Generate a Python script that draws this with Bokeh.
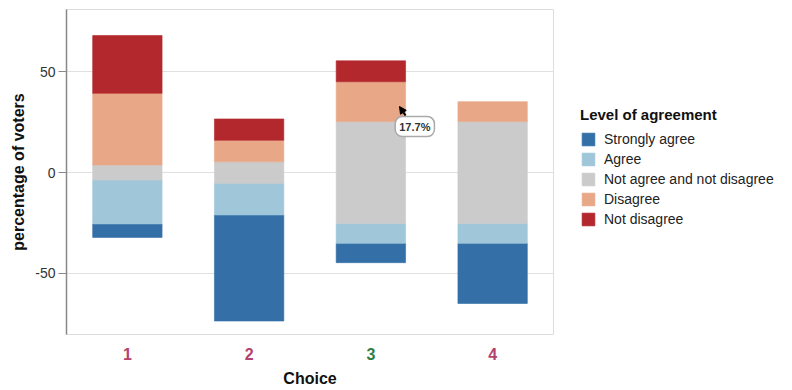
from bokeh.plotting import figure
from bokeh.layouts import row, column
from bokeh.core.properties import value
from bokeh.models import (FactorRange, Range1d, Legend, LegendItem, ColumnDataSource,
                          FixedTicker, Label, Arrow, NormalHead)
from bokeh.embed import file_html
from bokeh.resources import INLINE

# ---- data (percent of voters) ----
choices = ["1", "2", "3", "4"]
choice_colors = ["#b5416d", "#b5416d", "#2f7d45", "#b5416d"]
levels = ["Strongly agree", "Agree", "Not agree and not disagree", "Disagree", "Not disagree"]
level_colors = ["#3470a7", "#a0c6da", "#cbcbcb", "#e8a888", "#b3282d"]
strongly_agree = [6.7, 52.7, 9.6, 29.9]
agree = [21.8, 15.8, 9.9, 9.9]
neutral = [7.5, 10.6, 50.6, 50.6]
disagree = [35.6, 10.7, 19.8, 9.9]
not_disagree = [28.7, 10.6, 10.4, 0.0]
y_ticks = [-50, 0, 50]
tooltip_text = "17.7%"
tooltip_choice = "3"

series = [strongly_agree, agree, neutral, disagree, not_disagree]

FONT = "Liberation Sans"
BAR_W = 0.57

# ---------------- main plot ----------------
p = figure(x_range=FactorRange(factors=choices), y_range=Range1d(-80.5, 81),
           width=555, height=335, output_backend="svg", toolbar_location=None,
           min_border_left=66, min_border_right=2, min_border_top=9, min_border_bottom=1)

bottoms = [-(s + a + n / 2.0) for s, a, n in zip(strongly_agree, agree, neutral)]
cur = list(bottoms)
for vals, col in zip(series, level_colors):
    top = [c + v for c, v in zip(cur, vals)]
    keep = [i for i, v in enumerate(vals) if v > 0]
    src = ColumnDataSource(dict(x=[choices[i] for i in keep],
                                bottom=[cur[i] for i in keep],
                                top=[top[i] for i in keep]))
    p.vbar(x="x", bottom="bottom", top="top", width=BAR_W, source=src,
           fill_color=col, line_color=col, line_alpha=0.6, line_width=1)
    cur = top

p.outline_line_color = "#dddddd"
p.xgrid.grid_line_color = None
p.ygrid.grid_line_color = "#e0e0e0"
p.ygrid.ticker = FixedTicker(ticks=y_ticks)
p.xaxis.visible = False

ya = p.yaxis[0]
ya.ticker = FixedTicker(ticks=y_ticks)
ya.major_label_overrides = {t: str(t) for t in y_ticks}
ya.axis_line_color = "#888888"
ya.axis_line_width = 1.5
ya.major_tick_line_color = "#888888"
ya.major_tick_out = 8
ya.major_tick_in = 0
ya.minor_tick_line_color = None
ya.major_label_text_font = FONT
ya.major_label_text_font_size = "14px"
ya.major_label_text_color = "#333333"
ya.major_label_standoff = 3
ya.axis_label = "percentage of voters"
ya.axis_label_text_font = FONT
ya.axis_label_text_font_size = "16px"
ya.axis_label_text_font_style = "bold"
ya.axis_label_text_color = "#111111"
ya.axis_label_standoff = 5

# hover tooltip visible in the picture
ti = choices.index(tooltip_choice)
tx = ti + 0.5 + BAR_W / 2
ty = bottoms[ti] + strongly_agree[ti] + agree[ti] + neutral[ti]
p.add_layout(Label(x=tx - 0.085, y=ty + 2.5, text=tooltip_text, text_font=FONT,
                   text_font_size="11px", text_font_style="bold", text_color="#333333",
                   text_align="left", text_baseline="top",
                   background_fill_color="white", border_line_color="#aaaaaa",
                   border_line_width=1.5, padding=4, border_radius=7))
p.add_layout(Arrow(x_start=tx - 0.0, y_start=ty + 3.0, x_end=tx - 0.05, y_end=ty + 7.5,
                   line_color="black", line_width=2,
                   end=NormalHead(size=7, fill_color="black", line_color="black")))

# ---------------- category labels + axis title strip ----------------
lab = figure(x_range=p.x_range, y_range=Range1d(0, 55), width=555, height=55,
             output_backend="svg", toolbar_location=None, x_axis_type=None, y_axis_type=None,
             min_border_left=66, min_border_right=2, min_border_top=0, min_border_bottom=0)
lab.outline_line_color = None
lab.grid.grid_line_color = None
lab_src = ColumnDataSource(dict(x=choices, y=[37] * len(choices), t=choices, c=choice_colors))
lab.text(x="x", y="y", text="t", text_color="c", source=lab_src,
         text_font=value(FONT), text_font_size="16px", text_font_style="bold",
         text_align="center", text_baseline="middle")
lab.add_layout(Label(x=len(choices) / 2.0, y=12, text="Choice", text_font=FONT,
                     text_font_size="16px", text_font_style="bold", text_color="#111111",
                     text_align="center", text_baseline="middle"))

# ---------------- legend panel ----------------
leg = figure(x_range=Range1d(0, 1), y_range=Range1d(0, 1), width=237, height=390,
             output_backend="svg", toolbar_location=None, x_axis_type=None, y_axis_type=None,
             min_border_left=0, min_border_right=0, min_border_top=0, min_border_bottom=0)
leg.outline_line_color = None
leg.grid.grid_line_color = None
items = []
for lvl, col in zip(levels, level_colors):
    # one off-screen bar per level, only so the legend has a swatch to draw
    r = leg.vbar(x=[-5], bottom=[-6], top=[-5], width=0.5, fill_color=col,
                 line_color=col, line_alpha=0.6)
    items.append(LegendItem(label=lvl, renderers=[r]))
legend = Legend(items=items, title="Level of agreement", location=(25, 163),
                title_text_font=FONT, title_text_font_size="15px", title_text_font_style="bold",
                title_text_color="#111111", title_standoff=8,
                label_text_font=FONT, label_text_font_size="14px", label_text_color="#222222",
                glyph_width=16, glyph_height=16, label_height=16, spacing=4, label_standoff=8,
                padding=0, margin=0, border_line_color=None, background_fill_alpha=0)
leg.add_layout(legend)

layout = row(column(p, lab), leg)
open("out.html", "w").write(file_html(layout, INLINE))
